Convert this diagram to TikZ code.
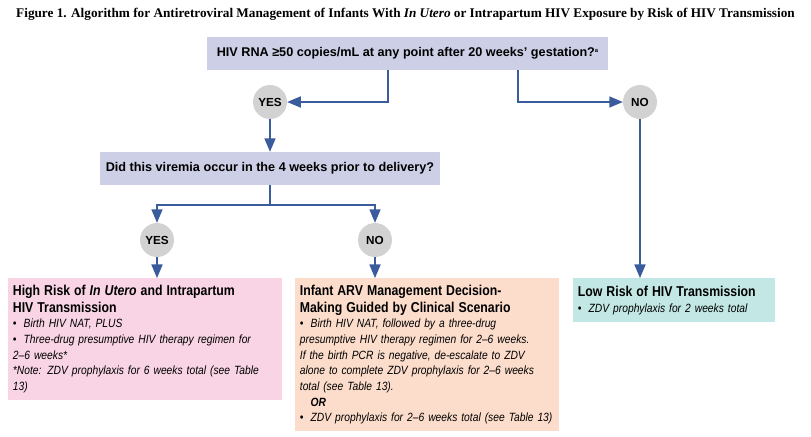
\documentclass[tikz,border=0pt]{standalone}
\usepackage{fontspec}
\setmainfont{Liberation Sans}
\newfontfamily\titlefont{Liberation Serif}
\newfontfamily\narrowfont[FakeStretch=0.86]{Liberation Sans}
\usepackage{tikz}
\usetikzlibrary{shapes,arrows,calc}

\definecolor{qbox}{HTML}{CCCFE5}
\definecolor{ansgrey}{HTML}{D2D2D2}
\definecolor{flow}{HTML}{3B5C9C}
\definecolor{highrisk}{HTML}{F8D4E4}
\definecolor{midrisk}{HTML}{FCDDCC}
\definecolor{lowrisk}{HTML}{C2E7E4}

\newcommand{\bitem}[1]{\par\hangindent=0.9em\hangafter=1\noindent\makebox[0.9em][l]{\textbullet}#1}
\newcommand{\boxhead}[1]{{\fontsize{12.2}{14}\selectfont\narrowfont\upshape\bfseries #1\par}}

\begin{document}
\begin{tikzpicture}[>=triangle 45,x=0.03cm,y=-0.03cm,
    question/.style={fill=qbox,font=\fontsize{10.8}{12}\selectfont\bfseries,inner sep=0pt},
    answer/.style={circle,fill=ansgrey,minimum size=34*0.03cm,inner sep=0pt,font=\fontsize{10}{11}\selectfont\bfseries},
    outcome/.style={anchor=north west,align=left,inner xsep=4pt,inner ysep=6pt,font=\fontsize{10.2}{13.4}\selectfont\narrowfont\itshape},
    link/.style={draw=flow,line width=1.7pt},
    linkarrow/.style={link,->}]
  \useasboundingbox (0,0) rectangle (811,436);
  \node (title) at (405.5,14) {\titlefont\bfseries\fontsize{11.3}{13}\selectfont Figure 1. Algorithm for Antiretroviral Management of Infants With \textit{In Utero} or Intrapartum HIV Exposure by Risk of HIV Transmission};
  % questions
  \node[question,minimum width=401*0.03cm,minimum height=33*0.03cm] (q1) at (407.5,53.5)
    {HIV RNA ≥50 copies/mL at any point after 20 weeks’ gestation?\raisebox{0.6ex}{\tiny a}};
  \node[question,minimum width=340*0.03cm,minimum height=33*0.03cm] (q2) at (270,168.5)
    {Did this viremia occur in the 4 weeks prior to delivery?};
  % answers
  \node[answer] (yes1) at (270,102) {YES};
  \node[answer] (no1) at (640,102) {NO};
  \node[answer] (yes2) at (157,240) {YES};
  \node[answer] (no2) at (375,240) {NO};
  % outcomes
  \node[outcome,fill=highrisk,text width=264*0.03cm,minimum height=100*0.03cm] (high) at (8,278)
    {\boxhead{High Risk of \textit{In Utero} and Intrapartum\\HIV Transmission}
     \bitem{Birth HIV NAT, PLUS}
     \bitem{Three-drug presumptive HIV therapy regimen for\\2–6 weeks*}
     \par\noindent *Note: ZDV prophylaxis for 6 weeks total (see Table 13)};
  \node[outcome,fill=midrisk,text width=254*0.03cm,minimum height=152*0.03cm] (mid) at (295,278)
    {\boxhead{Infant ARV Management Decision-\\Making Guided by Clinical Scenario}
     \bitem{Birth HIV NAT, followed by a three-drug\\presumptive HIV therapy regimen for 2–6 weeks.\\If the birth PCR is negative, de-escalate to ZDV\\alone to complete ZDV prophylaxis for 2–6 weeks\\total (see Table 13).}
     \par\noindent\hspace{0.9em}\textbf{OR}
     \bitem{ZDV prophylaxis for 2–6 weeks total (see Table 13)}};
  \node[outcome,fill=lowrisk,text width=192*0.03cm,minimum height=44*0.03cm] (low) at (573,278)
    {\boxhead{Low Risk of HIV Transmission}
     \bitem{ZDV prophylaxis for 2 weeks total}};
  % connectors
  \draw[linkarrow] ($(q1.south)+(-20,0)$) |- (yes1);
  \draw[linkarrow] ($(q1.south)+(110,0)$) |- (no1);
  \draw[linkarrow] (yes1) -- (q2);
  \coordinate (split) at ($(q2.south)+(0,20)$);
  \draw[link] (q2) -- (split);
  \draw[linkarrow] (split) -| (yes2);
  \draw[linkarrow] (split) -| (no2);
  \draw[linkarrow] (yes2) -- (yes2 |- high.north);
  \draw[linkarrow] (no2) -- (no2 |- mid.north);
  \draw[linkarrow] (no1) -- (no1 |- low.north);
\end{tikzpicture}
\end{document}
